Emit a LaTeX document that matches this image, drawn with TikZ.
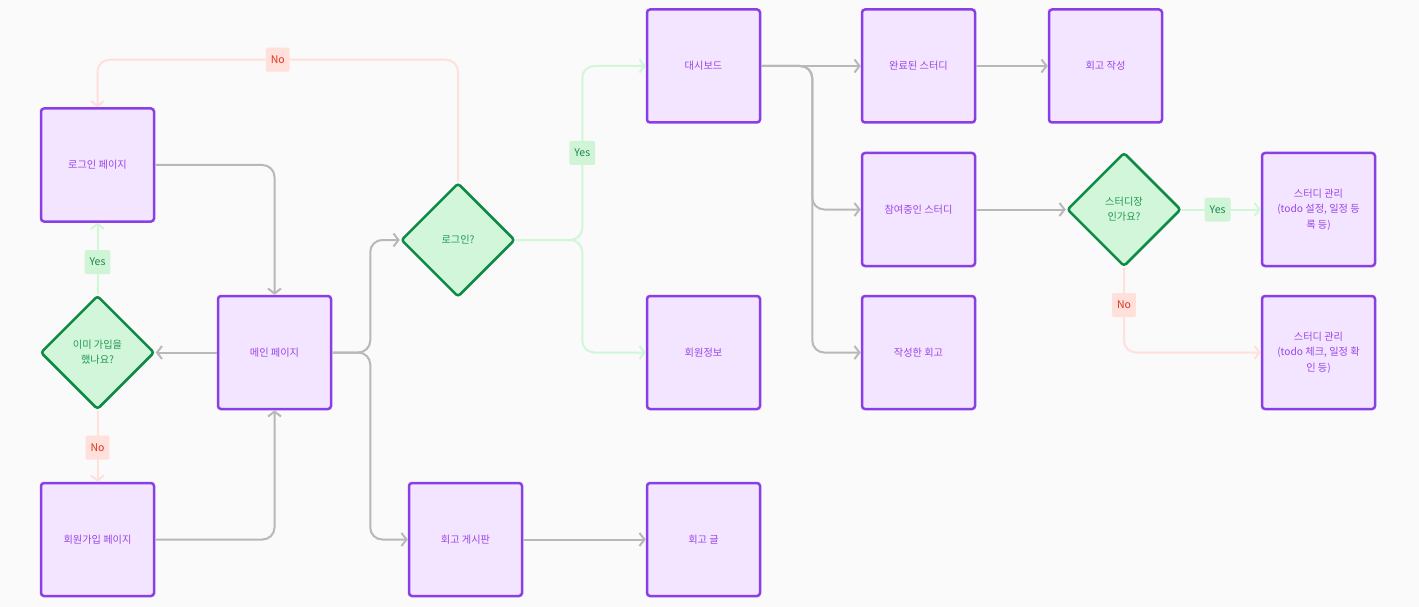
\documentclass[tikz,border=0pt]{standalone}
\usepackage{fontspec}
\setmainfont{Noto Sans CJK KR}
\usetikzlibrary{shapes.geometric,arrows.meta}
\definecolor{bg}{HTML}{FAFAFA}
\definecolor{boxfill}{HTML}{F3E5FF}
\definecolor{boxdraw}{HTML}{8A3FE6}
\definecolor{boxtext}{HTML}{9A45E8}
\definecolor{dfill}{HTML}{D2F6D9}
\definecolor{ddraw}{HTML}{0E8A45}
\definecolor{dtext}{HTML}{1F9A55}
\definecolor{gedge}{HTML}{B8B8B8}
\definecolor{yedge}{HTML}{D2F7D8}
\definecolor{nedge}{HTML}{FFE0DB}
\definecolor{ylblfill}{HTML}{D0F5D6}
\definecolor{ylbltext}{HTML}{17884A}
\definecolor{nlblfill}{HTML}{FFE0DB}
\definecolor{nlbltext}{HTML}{E0331F}
\tikzset{
  pbox/.style={draw=boxdraw, fill=boxfill, line width=2.5pt, rounded corners=3pt,
    minimum width=113pt, minimum height=113pt, inner sep=0pt, text=boxtext,
    align=center, font=\fontsize{10.2}{15.5}\selectfont},
  dbox/.style={shape=diamond, draw=ddraw, fill=dfill, line width=2.5pt, rounded corners=3pt,
    minimum width=114pt, minimum height=114pt, inner sep=0pt, text=dtext,
    align=center, font=\fontsize{10.2}{15}\selectfont},
  edgebase/.style={line width=2pt, rounded corners=12pt, -{Straight Barb[length=5pt,width=13pt]}},
  gE/.style={edgebase, draw=gedge},
  yE/.style={edgebase, draw=yedge},
  nE/.style={edgebase, draw=nedge},
  ylbl/.style={fill=ylblfill, text=ylbltext, draw=none, rounded corners=2pt, inner xsep=5pt,
    inner ysep=0pt, minimum height=24pt, font=\fontsize{10.5}{11}\selectfont},
  nlbl/.style={fill=nlblfill, text=nlbltext, draw=none, rounded corners=2pt, inner xsep=5pt,
    inner ysep=0pt, minimum height=24pt, font=\fontsize{10.5}{11}\selectfont},
}
\begin{document}
\begin{tikzpicture}[x=1pt,y=-1pt]
\fill[bg] (0,0) rectangle (1419,607);
\useasboundingbox (0,0) rectangle (1419,607);
% nodes
\node[pbox] (lp) at (97.5,165) {로그인 페이지};
\node[pbox] (mp) at (274.5,352.5) {메인 페이지};
\node[pbox] (sp) at (97.5,539.5) {회원가입 페이지};
\node[dbox] (d1) at (97.5,352.5) {이미 가입을\\했나요?};
\node[dbox] (q) at (458,240) {로그인?};
\node[pbox] (db) at (703.5,66) {대시보드};
\node[pbox] (mi) at (703.5,352.5) {회원정보};
\node[pbox] (rb) at (465.5,539.5) {회고 게시판};
\node[pbox] (rg) at (703.5,539.5) {회고 글};
\node[pbox] (cs) at (918.5,66) {완료된 스터디};
\node[pbox] (rw) at (1105.5,66) {회고 작성};
\node[pbox] (js) at (918.5,209.5) {참여중인 스터디};
\node[pbox] (wr) at (918.5,352.5) {작성한 회고};
\node[dbox] (d3) at (1124,209.5) {스터디장\\인가요?};
\node[pbox] (sm1) at (1318.5,209.5) {스터디 관리\\(todo 설정, 일정 등\\록 등)};
\node[pbox] (sm2) at (1318.5,352.5) {스터디 관리\\(todo 체크, 일정 확\\인 등)};
% connectors
\draw[gE] (lp.east) -| (mp.north);
\draw[gE] (sp.east) -| (mp.south);
\draw[gE] (mp.west) -- (d1.east);
\draw[yE] (d1.north) -- node[ylbl,pos=0.45]{Yes} (lp.south);
\draw[nE] (d1.south) -- node[nlbl,pos=0.52]{No} (sp.north);
\draw[gE] (mp.east) -- ++(38,0) |- (q.west);
\draw[gE] (mp.east) -- ++(38,0) |- (rb.west);
\draw[nE] (q.north) -- ++(0,-122) -| node[nlbl,pos=0.25]{No} (lp.north);
\draw[yE] (q.east) -- ++(66,0) |- node[ylbl,pos=0.25]{Yes} (db.west);
\draw[yE] (q.east) -- ++(66,0) |- (mi.west);
\draw[gE] (rb.east) -- (rg.west);
\draw[gE] (db.east) -- (cs.west);
\draw[gE] (db.east) -- ++(51,0) |- (js.west);
\draw[gE] (db.east) -- ++(51,0) |- (wr.west);
\draw[gE] (cs.east) -- (rw.west);
\draw[gE] (js.east) -- (d3.west);
\draw[yE] (d3.east) -- node[ylbl,pos=0.45]{Yes} (sm1.west);
\draw[nE] (d3.south) |- node[nlbl,pos=0.22]{No} (sm2.west);
\end{tikzpicture}
\end{document}
